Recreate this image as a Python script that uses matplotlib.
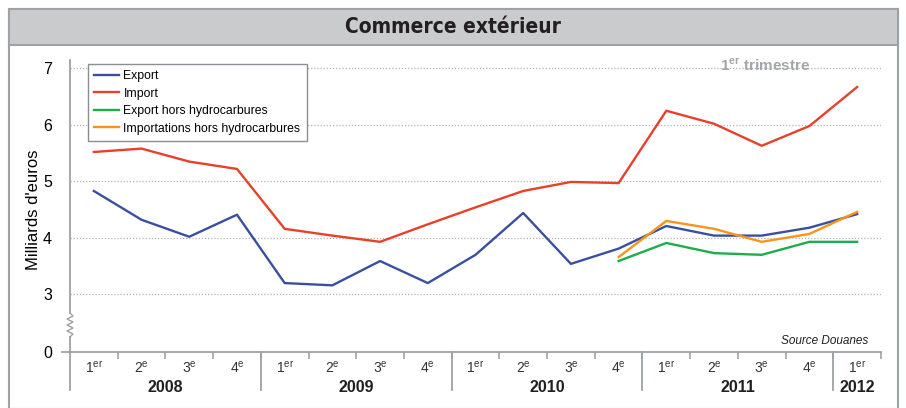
import matplotlib
matplotlib.use("Agg")
import matplotlib.pyplot as plt
from matplotlib.patches import Rectangle
from matplotlib.lines import Line2D

plt.rcParams['font.family'] = ['Liberation Sans', 'DejaVu Sans']
plt.rcParams['mathtext.fontset'] = 'custom'
plt.rcParams['mathtext.rm'] = 'Liberation Sans'
plt.rcParams['mathtext.bf'] = 'Liberation Sans:bold'

# data (milliards d'euros), quarters 2008 Q1 .. 2012 Q1
years = ["2008", "2009", "2010", "2011", "2012"]
quarter_labels = ["1$^{\\rm er}$", "2$^{\\rm e}$", "3$^{\\rm e}$", "4$^{\\rm e}$"] * 4 + ["1$^{\\rm er}$"]
export = [4.83, 4.32, 4.02, 4.41, 3.20, 3.16, 3.59, 3.20, 3.70, 4.44, 3.54, 3.81, 4.21, 4.04, 4.04, 4.18, 4.42]
imports = [5.52, 5.58, 5.35, 5.22, 4.16, 4.04, 3.93, 4.24, 4.54, 4.83, 4.99, 4.97, 6.25, 6.02, 5.63, 5.98, 6.67]
export_hh = [3.59, 3.91, 3.73, 3.70, 3.93, 3.93]       # from 2010 Q4
import_hh = [3.66, 4.30, 4.16, 3.93, 4.07, 4.46]       # from 2010 Q4
y_ticks = [3, 4, 5, 6, 7]
y_zero_pos = 1.98  # where the "0" of the broken axis sits

W, H = 906, 408
fig = plt.figure(figsize=(W / 100, H / 100), dpi=100)
GRAY = "#9ea2a7"


def fx(px):
    return px / W


def fy(py):
    return 1 - py / H


# outer frame and title band
fig.patches.append(Rectangle((fx(9), fy(409)), fx(898) - fx(9), fy(9) - fy(409),
                             transform=fig.transFigure, fill=False, ec=GRAY, lw=1.5))
fig.patches.append(Rectangle((fx(9), fy(45)), fx(898) - fx(9), fy(9) - fy(45),
                             transform=fig.transFigure, fc="#c9cbcd", ec=GRAY, lw=1.5))
fig.text(fx(453), fy(27), "Commerce extérieur", ha="center", va="center",
         fontsize=15, fontweight="bold", color="#231f20",
         family=["DejaVu Sans"], fontstretch="condensed")

L, R, T, B = 70, 881, 60, 352
ax = fig.add_axes([fx(L), fy(B), fx(R) - fx(L), fy(T) - fy(B)])
ax_h = B - T

n = len(export)
x = list(range(n))
ax.plot(x, export, color="#3a4fa0", lw=1.7, label="Export")
ax.plot(x, imports, color="#e9402a", lw=1.7, label="Import")
x_hh = x[n - len(export_hh):]
ax.plot(x_hh, export_hh, color="#1fad4c", lw=1.7, label="Export hors hydrocarbures")
ax.plot(x_hh, import_hh, color="#f7941d", lw=1.7, label="Importations hors hydrocarbures")

ax.set_xlim(-0.5, n - 0.5)
ax.set_ylim(y_zero_pos, y_zero_pos + ax_h / 56.5)

for v in y_ticks:
    ax.axhline(v, color="#b4b4b4", lw=0.9, ls=(0, (1, 1.5)), zorder=0)
ax.set_yticks([y_zero_pos] + y_ticks)
ax.set_yticklabels(["0"] + [str(v) for v in y_ticks], fontsize=11.5)
ax.tick_params(axis="y", length=0, pad=13)
ax.set_ylabel("Milliards d'euros", fontsize=12)

for s in ["top", "right", "left"]:
    ax.spines[s].set_visible(False)
ax.spines["bottom"].set_color(GRAY)
ax.spines["bottom"].set_linewidth(1.3)

# x axis: small ticks between quarters, labels below
ax.set_xticks([i + 0.5 for i in range(n)])
ax.set_xticklabels([])
ax.tick_params(axis="x", length=5, color=GRAY, width=1.2, direction="out")
for i, lab in enumerate(quarter_labels):
    ax.text(i, -16 / ax_h, lab, transform=ax.get_xaxis_transform(),
            ha="center", va="center", fontsize=10, color="#333333")
year_start = [0, 4, 8, 12, 16]
year_end = [4, 8, 12, 16, 17]
for yr, s, e in zip(years, year_start, year_end):
    ax.text((s + e - 1) / 2, -36 / ax_h, yr, transform=ax.get_xaxis_transform(),
            ha="center", va="center", fontsize=11.5, fontweight="bold", color="#231f20")
    ax.add_line(Line2D([s - 0.5, s - 0.5], [0, -38 / ax_h], transform=ax.get_xaxis_transform(),
                       color=GRAY, lw=1.3, clip_on=False))

# left spine with a break (zigzag)
ta = ax.transAxes


def ay(py):
    return (B - py) / ax_h


def ax_x(px):
    return (px - L) / (R - L)


ax.yaxis.set_label_coords(ax_x(41), ay(210))
ax.add_line(Line2D([0, 0], [1, ay(313)], transform=ta, color=GRAY, lw=1.3, clip_on=False))
zz_y = [313, 316, 319, 322, 325, 328, 331, 334, 337]
zz_x = [70, 73, 67, 73, 67, 73, 67, 73, 70]
ax.add_line(Line2D([ax_x(v) for v in zz_x], [ay(v) for v in zz_y], transform=ta,
                   color=GRAY, lw=1.0, clip_on=False))
ax.add_line(Line2D([0, 0], [ay(337), ay(352)], transform=ta, color=GRAY, lw=1.3, clip_on=False))
ax.add_line(Line2D([ax_x(62), 0], [0, 0], transform=ta, color=GRAY, lw=1.3, clip_on=False))

leg = ax.legend(loc="upper left", bbox_to_anchor=(ax_x(88), ay(64)), fontsize=8.8,
                frameon=True, fancybox=False, framealpha=1, edgecolor="#8a8d91",
                handlelength=2.0, handletextpad=0.4, labelspacing=0.45, borderpad=0.5,
                borderaxespad=0)
leg.get_frame().set_linewidth(1.0)

ax.text(ax_x(765), ay(66), "1$^{\\mathbf{er}}$ trimestre", transform=ta, ha="center",
        va="center", fontsize=11, fontweight="bold", color="#a3a6aa")
ax.text(ax_x(868), ay(341), "Source Douanes", transform=ta, ha="right", va="center",
        fontsize=8.5, style="italic", color="#231f20")

fig.savefig("out.png", dpi=100)
